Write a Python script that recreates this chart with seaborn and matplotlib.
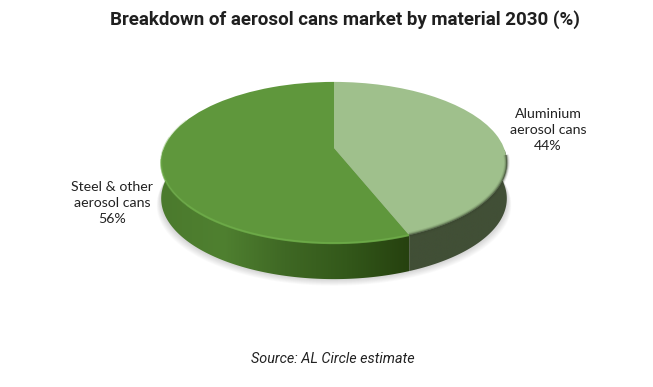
import numpy as np
import seaborn as sns
import matplotlib.pyplot as plt
from matplotlib.colors import LinearSegmentedColormap
from matplotlib.patches import Polygon
from matplotlib.transforms import Transform

materials = ['Aluminium\naerosol cans', 'Steel & other\naerosol cans']
shares = [44, 56]
title = 'Breakdown of aerosol cans market by material 2030 (%)'
source = 'Source: AL Circle estimate'

top_colors = ['#9fc08c', '#5f973c']
rim_colors = ['#6b7f5c', '#6cab47']
label_pos = [(548, 130), (112, 203)]

# pie geometry in pixels (tilted disc seen in perspective)
CX, CY = 334, 148
WIDTH, HEIGHT, PERSP = 170, 78, 0.18
DEPTH = 36


def tilt(points, dy=0):
    u, v = points[:, 0], points[:, 1]
    w = 1 + PERSP * v
    return np.column_stack([CX + WIDTH * u / w, CY + dy - HEIGHT * v / w])


class Tilt(Transform):
    input_dims = output_dims = 2

    def transform_non_affine(self, values):
        return tilt(np.asarray(values))


def rim(a0, a1, dy=0):
    # a0, a1 = clockwise degrees from 12 o'clock
    ang = np.radians(np.linspace(a0, a1, 200))
    return tilt(np.column_stack([np.sin(ang), np.cos(ang)]), dy)


sns.set_theme(style='white')
plt.rcParams['font.family'] = ['Roboto', 'DejaVu Sans']

fig = plt.figure(figsize=(6.53, 3.87), dpi=100)
ax = fig.add_axes([0, 0, 1, 1])

# soft shadow under the disc
for k in range(8):
    pts = rim(0, 360, DEPTH + 1 + k * 0.8)
    pts[:, 0] = CX + (pts[:, 0] - CX) * (1.005 + k * 0.003)
    ax.fill(pts[:, 0], pts[:, 1], color='#000000', alpha=0.018, lw=0, zorder=1)

# slice boundaries, clockwise from the top
edges = np.cumsum([0] + shares) * 3.6

# side walls
side_maps = [
    LinearSegmentedColormap.from_list('al', ['#414f36', '#414f36']),
    LinearSegmentedColormap.from_list('st', ['#26410f', '#33581a', '#3f6824', '#4f8030', '#4b7a2d']),
]
gradient = np.linspace(0, 1, 256).reshape(1, -1)
for i in range(2):
    outline = np.vstack([rim(edges[i], edges[i + 1]), rim(edges[i], edges[i + 1], DEPTH)[::-1]])
    clip = Polygon(outline, closed=True, transform=ax.transData, fc='none', ec='none')
    ax.add_patch(clip)
    if i == 1:
        extent = (409, 161, 290, 150)
    else:
        extent = (409, 510, 290, 150)
    im = ax.imshow(gradient, cmap=side_maps[i], extent=extent, aspect='auto', zorder=2)
    im.set_clip_path(clip)

# top face
wedges, _ = ax.pie(shares, colors=top_colors, startangle=90, counterclock=False,
                   wedgeprops={'linewidth': 0})
for w in wedges:
    w.set_transform(Tilt() + ax.transData)
    w.set_zorder(3)

# bevel along the front rim, fading out towards the back left
for a0, a1, alpha in [(edges[1], 230, 0.9), (230, 262, 0.7), (262, 278, 0.4), (278, 292, 0.2)]:
    ax.plot(*rim(a0, a1).T, color=rim_colors[1], lw=1.5, alpha=alpha, zorder=4, solid_capstyle='butt')
shade = rim(95, edges[1])
for lw, alpha in [(4, 0.12), (2.5, 0.25), (1.2, 0.5)]:
    ax.plot(*shade.T, color='#39462f', lw=lw, alpha=alpha, zorder=4, solid_capstyle='butt')

ax.set_aspect('auto')
ax.set_xlim(0, 653)
ax.set_ylim(387, 0)
ax.axis('off')

ax.text(344.5, 20, title, ha='center', va='center', fontsize=13.5, fontweight='bold', color='#1f1f1f')
for name, share, (x, y) in zip(materials, shares, label_pos):
    ax.text(x, y, f'{name}\n{share}%', ha='center', va='center', fontsize=10.2,
            color='#222222', linespacing=1.42, family=['Lato', 'DejaVu Sans'])
ax.text(333, 359, source, ha='center', va='center', fontsize=10.4, style='italic', color='#222222')

fig.savefig('out.png', dpi=100)
